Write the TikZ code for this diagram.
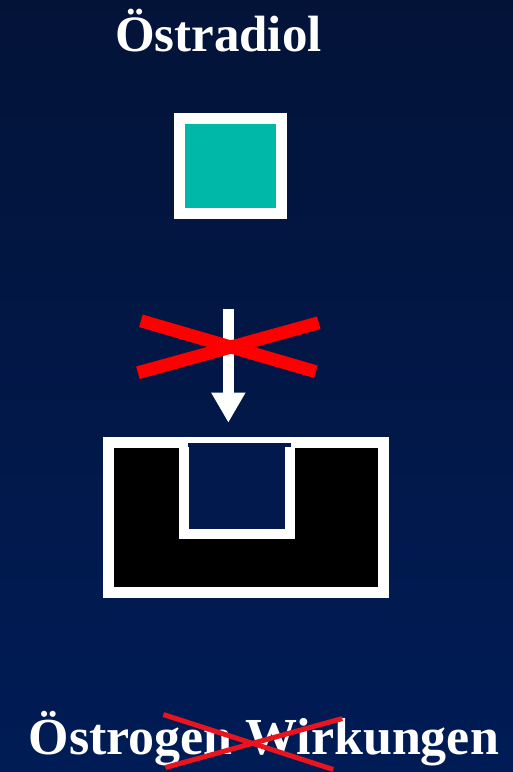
\documentclass[tikz,border=0pt]{standalone}
\usepackage{fontspec}
\setmainfont{Liberation Serif}
\usepackage{tikz}
\usetikzlibrary{calc, arrows.meta, positioning}
\definecolor{navytop}{RGB}{3,19,56}
\definecolor{navybot}{RGB}{0,28,86}
\definecolor{navymid}{RGB}{1,25,76}
\definecolor{hormone}{RGB}{0,184,168}
\definecolor{blockred}{RGB}{255,0,0}
\definecolor{strikered}{RGB}{232,20,32}
\tikzset{
  title/.style={text=white,font=\bfseries\fontsize{51}{51}\selectfont,anchor=base,inner sep=0pt},
  ligand/.style={draw=white,fill=hormone,line width=11pt,minimum width=102pt,minimum height=95pt,inner sep=0pt},
  receptor/.style={draw=white,fill=black,line width=11pt,minimum width=275pt,minimum height=150pt,inner sep=0pt},
  bindarrow/.style={white,line width=11pt,-{Triangle[width=32pt,length=30pt]}},
  blockcross/.style={blockred,line width=13pt},
  strikecross/.style={strikered,line width=5pt}
}

\begin{document}
\begin{tikzpicture}[x=1pt,y=1pt]
  \fill[top color=navytop,bottom color=navybot] (0,0) rectangle (513,772);
  \node[title] (T) at (218.5,720) {Östradiol};
  \node[ligand] (sq) at (230.5,606) {};
  \node[receptor] (rec) at (246,254.5) {};
  % binding pocket
  \fill[navymid] ($(rec.center)+(-57,-11.5)$) rectangle ($(rec.center)+(39.5,74.5)$);
  \draw[white,line width=10pt] ($(rec.center)+(-62,80.5)$) -- ($(rec.center)+(-62,-16.5)$)
    -- ($(rec.center)+(44.5,-16.5)$) -- ($(rec.center)+(44.5,80.5)$);
  \fill[navymid] ($(rec.center)+(-58,70.5)$) rectangle ($(rec.center)+(45,74.5)$);
  \draw[bindarrow, shorten <=90pt, shorten >=14pt] ([xshift=-2pt]sq.south) -- ([xshift=-2pt]sq.south |- rec.north);
  \coordinate (X) at (228.5,425);
  \draw[blockcross] ($(X)+(-87.5,26)$) -- ($(X)+(87.5,-25)$);
  \draw[blockcross] ($(X)+(-90.5,-26)$) -- ($(X)+(90.5,24)$);
  \node[title] (B) at (264,17) {\fontsize{52}{52}\selectfont Östrogen Wirkungen};
  \draw[strikecross] ($(B.base)+(-100.5,40)$) -- ($(B.base)+(69.5,-15)$);
  \draw[strikecross] ($(B.base)+(-98.5,-13)$) -- ($(B.base)+(78.5,36)$);
\end{tikzpicture}
\end{document}
